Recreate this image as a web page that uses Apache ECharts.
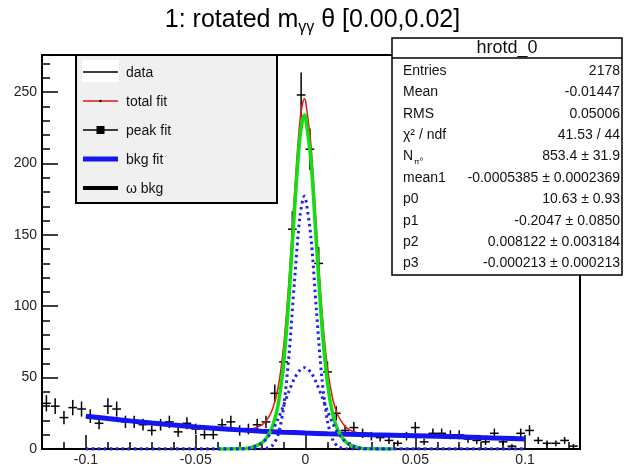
<!DOCTYPE html>
<html>
<head>
<meta charset="utf-8">
<script src="https://cdn.jsdelivr.net/npm/echarts@6/dist/echarts.min.js"></script>
<style>
html, body { margin: 0; padding: 0; background: #fff; }
#main { width: 625px; height: 469px; }
</style>
</head>
<body>
<div id="main"></div>
<script>
// histogram: 61 bins of 0.004 starting at -0.12
var binLow = -0.12;
var binWidth = 0.004;
var counts = [32, 30, 22, 29, 28, 23, 18, 30, 28, 19,
	19, 17, 13, 17, 19, 12, 18, 14, 10, 10,
	17, 19, 13, 14, 17, 19, 39, 61, 154, 248,
	210, 130, 54, 25, 13, 15, 11, 9, 8, 6,
	4, 9, 15, 5, 11, 11, 10, 10, 7, 6,
	5, 11, 5, 2, 11, 13, 6, 4, 4, 6, 2];

// bkg fit (blue)
var bkgX = [-0.1, -0.09, -0.08, -0.07, -0.06, -0.05, -0.04, -0.03, -0.02, -0.01, 0,
	0.01, 0.02, 0.03, 0.04, 0.05, 0.06, 0.07, 0.08, 0.09, 0.1];
var bkgY = [23, 21.3, 19.7, 18.2, 16.8, 15.5, 14.4, 13.4, 12.5, 11.8, 11.2,
	10.7, 10.3, 9.9, 9.6, 9.3, 8.9, 8.5, 8.0, 7.5, 7.0];

// total fit (red)
var totalX = [-0.1, -0.08, -0.06, -0.05, -0.04, -0.03, -0.025, -0.02, -0.0175, -0.015, -0.0125, -0.01,
	-0.0075, -0.005, -0.0025, -0.0005, 0, 0.0025, 0.005, 0.0075, 0.01, 0.0125, 0.015, 0.0175,
	0.02, 0.025, 0.03, 0.04, 0.05, 0.06, 0.08, 0.1];
var totalY = [23, 19.7, 16.8, 15.5, 14.4, 13.5, 13.9, 16.7, 20.6, 28.1, 42.9, 71.4,
	118.7, 179, 230.2, 245.3, 244.2, 212.6, 153.8, 96.6, 56.8, 34.3, 22.8, 16.8,
	13.4, 10.7, 10.0, 9.6, 9.3, 8.9, 8.0, 7.0];

// peak fit (green) and its two gaussians (blue dotted)
var peakX = [-0.04, -0.03, -0.025, -0.02, -0.0175, -0.015, -0.0125, -0.01, -0.0075, -0.005, -0.0025, -0.0005,
	0, 0.0025, 0.005, 0.0075, 0.01, 0.0125, 0.015, 0.0175, 0.02, 0.025, 0.03, 0.04];
var peakY = [0, 0.1, 0.9, 4.2, 8.3, 15.9, 30.9, 59.6, 107, 167.5, 218.8, 234,
	233, 201.5, 142.8, 85.8, 46.1, 23.7, 12.3, 6.4, 3.1, 0.6, 0.1, 0];
var gaussX = [-0.1].concat(peakX, [0.1]);
var narrowY = [0, 0, 0, 0, 0.1, 0.6, 2.6, 9.9, 29.1, 66.4, 118, 163.4, 177,
	176.1, 147.9, 96.6, 49.2, 19.5, 6.0, 1.5, 0.3, 0, 0, 0, 0, 0];
var broadY = [0, 0, 0.1, 0.9, 4.1, 7.7, 13.3, 21.0, 30.5, 40.6, 49.5, 55.4, 57,
	56.9, 53.6, 46.2, 36.6, 26.6, 17.7, 10.8, 6.1, 3.1, 0.6, 0.1, 0, 0];

var statLabels = ['Entries', 'Mean', 'RMS', 'χ² / ndf', '{n|N}{s|π⁰}', 'mean1', 'p0', 'p1', 'p2', 'p3'];
var statValues = ['2178', '-0.01447', '0.05006', '41.53 / 44', '853.4 ± 31.9',
	'-0.0005385 ± 0.0002369', '10.63 ± 0.93', '-0.2047 ± 0.0850', '0.008122 ± 0.003184', '-0.000213 ± 0.000213'];

var legendNames = ['data', 'total fit', 'peak fit', 'bkg fit', 'ω bkg'];

var FONT = "'Liberation Sans', Arial, Helvetica, sans-serif";

function pairs(xs, ys) {
	return xs.map(function(x, i) { return [x, ys[i]]; });
}

function renderCross(params, api) {
	var x = api.value(0), y = api.value(1);
	var e = Math.sqrt(y);
	var l = api.coord([x - binWidth / 2, y]);
	var r = api.coord([x + binWidth / 2, y]);
	var t = api.coord([x, y + e]);
	var b = api.coord([x, Math.max(y - e, 0)]);
	var st = { stroke: '#000', lineWidth: 1.5 };
	return {
		type: 'group',
		children: [
			{ type: 'line', shape: { x1: l[0], y1: l[1], x2: r[0], y2: r[1] }, style: st },
			{ type: 'line', shape: { x1: t[0], y1: t[1], x2: b[0], y2: b[1] }, style: st }
		]
	};
}

function txt(text, x, y, size, align, extra) {
	var s = { text: text, x: x, y: y, fill: '#111', fontSize: size, fontFamily: FONT,
		align: align, textAlign: align, verticalAlign: 'middle', textVerticalAlign: 'middle' };
	if (extra) for (var k in extra) s[k] = extra[k];
	return { type: 'text', z: 101, style: s };
}

// legend box (top left)
function legendBox() {
	var rowsY = [72, 101, 130, 159, 188];
	var els = [{ type: 'rect', z: 100, shape: { x: 76, y: 55, width: 201, height: 148 },
		style: { fill: '#f0f0f0', stroke: '#000', lineWidth: 2 } }];
	els.push({ type: 'rect', z: 101, shape: { x: 82, y: 60, width: 37, height: 22 }, style: { fill: '#fff' } });
	var lines = [
		{ c: '#000', w: 1.5 }, { c: '#e01818', w: 1.5 }, { c: '#000', w: 1.5 }, { c: '#1515f0', w: 5 }, { c: '#000', w: 4 }
	];
	lines.forEach(function(ln, i) {
		els.push({ type: 'line', z: 102, shape: { x1: 83, y1: rowsY[i], x2: 118, y2: rowsY[i] },
			style: { stroke: ln.c, lineWidth: ln.w } });
		els.push(txt(legendNames[i], 126, rowsY[i] + 1, 14, 'left'));
	});
	els.push({ type: 'rect', z: 103, shape: { x: 96.5, y: 126, width: 8, height: 8 }, style: { fill: '#000' } });
	els.push({ type: 'circle', z: 103, shape: { cx: 100.5, cy: 101, r: 1.2 }, style: { fill: '#000' } });
	return els;
}

// stats box (top right)
function statsBox() {
	var els = [{ type: 'rect', z: 100, shape: { x: 392, y: 38, width: 230, height: 237 },
		style: { fill: '#fff', stroke: '#000', lineWidth: 1.5 } }];
	els.push({ type: 'line', z: 101, shape: { x1: 392, y1: 58, x2: 622, y2: 58 }, style: { stroke: '#000', lineWidth: 1.5 } });
	els.push(txt('hrotd_0', 507, 48, 18, 'center'));
	statLabels.forEach(function(lab, i) {
		var y = 71 + 21.4 * i;
		els.push(txt(lab, 403, y, 14, 'left', {
			rich: {
				n: { fontSize: 14, fontFamily: FONT, fill: '#111' },
				s: { fontSize: 8, fontFamily: FONT, fill: '#111', padding: [10, 0, 0, 1] }
			}
		}));
		els.push(txt(statValues[i], 620, y, 14, 'right'));
	});
	return els;
}

var myChart = echarts.init(document.getElementById('main'));
var option = {
	animation: false,
	backgroundColor: '#fff',
	title: {
		text: '{a|1: rotated m}{sub|γγ}{a| θ [0.00,0.02]}',
		left: 'center',
		top: 4,
		padding: 0,
		textStyle: {
			fontFamily: FONT,
			fontSize: 25,
			fontWeight: 'normal',
			color: '#000',
			rich: {
				a: { fontFamily: FONT, fontSize: 25, color: '#000', lineHeight: 32 },
				sub: { fontFamily: FONT, fontSize: 16, color: '#000', padding: [16, 0, 0, 0] }
			}
		}
	},
	grid: {
		left: 42, right: 45, top: 55, bottom: 20,
		show: true, borderColor: '#000', borderWidth: 2
	},
	xAxis: [{
		type: 'value', min: -0.12, max: 0.125, splitNumber: 5,
		axisLine: { onZero: false, lineStyle: { color: '#000', width: 2 } },
		axisTick: { inside: true, length: 14, lineStyle: { color: '#000', width: 1.5 } },
		axisLabel: { color: '#222', fontSize: 14, fontFamily: FONT, margin: 4, showMinLabel: false, showMaxLabel: false },
		splitLine: { show: false }
	}, {
		type: 'value', min: -0.12, max: 0.125, interval: 0.01, position: 'bottom',
		axisLine: { show: false, onZero: false },
		axisTick: { inside: true, length: 7, lineStyle: { color: '#000', width: 1.5 } },
		axisLabel: { show: false },
		splitLine: { show: false }
	}],
	yAxis: [{
		type: 'value', min: 0, max: 276, interval: 50, position: 'left',
		axisLine: { show: true, onZero: false, lineStyle: { color: '#000', width: 2 } },
		axisTick: { show: true, inside: true, length: 16, lineStyle: { color: '#000', width: 1.5 } },
		axisLabel: { color: '#222', fontSize: 14, fontFamily: FONT, margin: 5, showMaxLabel: false },
		splitLine: { show: false }
	}, {
		type: 'value', min: 0, max: 276, interval: 10, position: 'left',
		axisLine: { show: false, onZero: false },
		axisTick: { show: true, inside: true, length: 8, lineStyle: { color: '#000', width: 1.5 } },
		axisLabel: { show: false },
		splitLine: { show: false }
	}],
	series: [{
		name: 'data', type: 'custom', renderItem: renderCross,
		data: counts.map(function(c, i) { return [binLow + (i + 0.5) * binWidth, c]; }),
		z: 2
	}, {
		name: 'total fit', type: 'line', data: pairs(totalX, totalY), showSymbol: false, smooth: 0.3,
		lineStyle: { color: '#e01818', width: 1.5 }, z: 3
	}, {
		name: 'bkg fit', type: 'line', data: pairs(bkgX, bkgY), showSymbol: false, smooth: 0.3,
		lineStyle: { color: '#1515f0', width: 5 }, z: 4
	}, {
		name: 'peak fit', type: 'line', data: pairs(peakX, peakY), showSymbol: false, smooth: 0.3,
		lineStyle: { color: '#10e010', width: 3.5 }, z: 5
	}, {
		name: 'gaus1', type: 'line', data: pairs(gaussX, narrowY), showSymbol: false, smooth: 0.3,
		lineStyle: { color: '#2222e8', width: 3, type: [2.5, 3.5] }, z: 6
	}, {
		name: 'gaus2', type: 'line', data: pairs(gaussX, broadY), showSymbol: false, smooth: 0.3,
		lineStyle: { color: '#2222e8', width: 3, type: [2.5, 3.5] }, z: 6
	}],
	graphic: legendBox().concat(statsBox())
};
myChart.setOption(option);
</script>
</body>
</html>
